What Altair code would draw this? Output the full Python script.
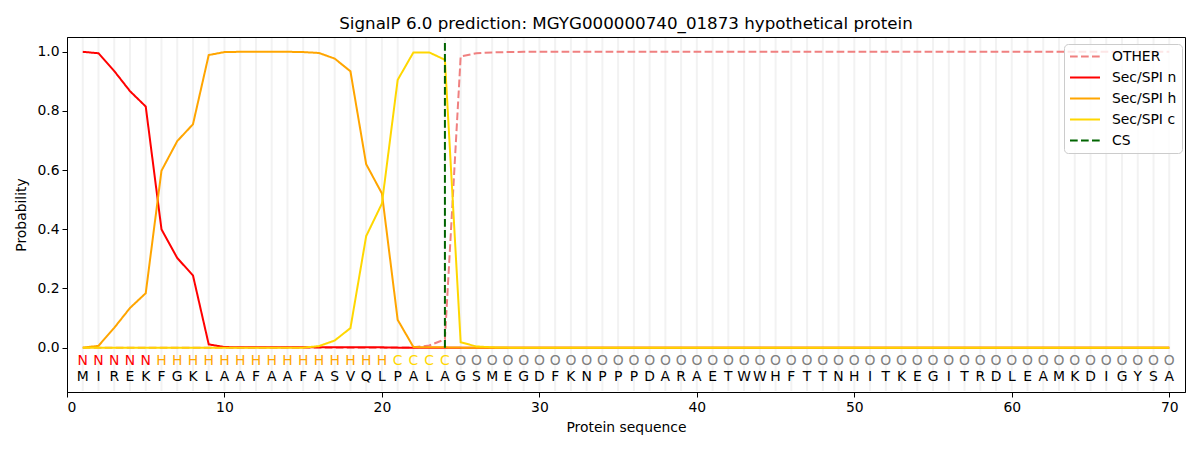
import altair as alt
import pandas as pd

positions = list(range(1, 71))
sequence = list("MIREKFGKLAAFAAFASVQLPALAGSMEGDFKNPPPDARAETWWHFTTNHITKEGITRDLEAMKDIGYSA")
region_labels = list("NNNNNHHHHHHHHHHHHHHHCCCCOOOOOOOOOOOOOOOOOOOOOOOOOOOOOOOOOOOOOOOOOOOOOO")

other = [0.000, 0.000, 0.000, 0.000, 0.000, 0.000, 0.000, 0.000, 0.000, 0.000,
         0.000, 0.000, 0.000, 0.000, 0.000, 0.000, 0.000, 0.000, 0.000, 0.000,
         0.000, 0.001, 0.007, 0.028, 0.984, 0.995, 0.998, 0.999, 1.000, 1.000,
         1.000, 1.000, 1.000, 1.000, 1.000, 1.000, 1.000, 1.000, 1.000, 1.000,
         1.000, 1.000, 1.000, 1.000, 1.000, 1.000, 1.000, 1.000, 1.000, 1.000,
         1.000, 1.000, 1.000, 1.000, 1.000, 1.000, 1.000, 1.000, 1.000, 1.000,
         1.000, 1.000, 1.000, 1.000, 1.000, 1.000, 1.000, 1.000, 1.000, 1.000]
sec_n = [1.000, 0.995, 0.935, 0.867, 0.815, 0.400, 0.303, 0.244, 0.011, 0.002,
         0.001, 0.001, 0.001, 0.001, 0.001, 0.001, 0.001, 0.001, 0.001, 0.001,
         0.000, 0.000, 0.000, 0.000, 0.000, 0.000, 0.000, 0.000, 0.000, 0.000,
         0.000, 0.000, 0.000, 0.000, 0.000, 0.000, 0.000, 0.000, 0.000, 0.000,
         0.000, 0.000, 0.000, 0.000, 0.000, 0.000, 0.000, 0.000, 0.000, 0.000,
         0.000, 0.000, 0.000, 0.000, 0.000, 0.000, 0.000, 0.000, 0.000, 0.000,
         0.000, 0.000, 0.000, 0.000, 0.000, 0.000, 0.000, 0.000, 0.000, 0.000]
sec_h = [0.000, 0.006, 0.067, 0.134, 0.184, 0.598, 0.698, 0.755, 0.989, 0.999,
         1.000, 1.000, 1.000, 1.000, 0.999, 0.996, 0.977, 0.934, 0.620, 0.521,
         0.094, 0.002, 0.001, 0.001, 0.000, 0.000, 0.000, 0.000, 0.000, 0.000,
         0.000, 0.000, 0.000, 0.000, 0.000, 0.000, 0.000, 0.000, 0.000, 0.000,
         0.000, 0.000, 0.000, 0.000, 0.000, 0.000, 0.000, 0.000, 0.000, 0.000,
         0.000, 0.000, 0.000, 0.000, 0.000, 0.000, 0.000, 0.000, 0.000, 0.000,
         0.000, 0.000, 0.000, 0.000, 0.000, 0.000, 0.000, 0.000, 0.000, 0.000]
sec_c = [0.000, 0.000, 0.000, 0.000, 0.000, 0.000, 0.000, 0.000, 0.000, 0.000,
         0.000, 0.000, 0.000, 0.000, 0.000, 0.005, 0.024, 0.066, 0.377, 0.487,
         0.905, 0.998, 0.998, 0.973, 0.018, 0.004, 0.001, 0.000, 0.000, 0.000,
         0.000, 0.000, 0.000, 0.000, 0.000, 0.000, 0.000, 0.000, 0.000, 0.000,
         0.000, 0.000, 0.000, 0.000, 0.000, 0.000, 0.000, 0.000, 0.000, 0.000,
         0.000, 0.000, 0.000, 0.000, 0.000, 0.000, 0.000, 0.000, 0.000, 0.000,
         0.000, 0.000, 0.000, 0.000, 0.000, 0.000, 0.000, 0.000, 0.000, 0.000]
cs_position = 24
cs_span = [0.0, 1.035]

series_names = ["OTHER", "Sec/SPI n", "Sec/SPI h", "Sec/SPI c", "CS"]
series_colors = ["#F08080", "#FF0000", "#FFA500", "#FFD700", "#006400"]
series_dashes = [[7.7, 3.3], [1, 0], [1, 0], [1, 0], [7.7, 3.3]]

label_names = ["N", "H", "C", "O"]
label_colors = ["#FF0000", "#FFA500", "#FFD700", "#808080"]

rows = []
for name, vals in zip(series_names[:4], [other, sec_n, sec_h, sec_c]):
    for p, v in zip(positions, vals):
        rows.append({"pos": p, "prob": v, "series": name})
for v in cs_span:
    rows.append({"pos": cs_position, "prob": v, "series": "CS"})
lines_df = pd.DataFrame(rows)

letters_df = pd.DataFrame({"pos": positions, "aa": sequence, "region": region_labels})
grid_df = pd.DataFrame({"pos": positions})

FONT = "DejaVu Sans"
W, H = 1118, 355
xscale = alt.Scale(domain=[0, 71], nice=False, zero=False)
yscale = alt.Scale(domain=[-0.15, 1.05], nice=False, zero=False)

grid = alt.Chart(grid_df).mark_rule(color="#f2f2f2", strokeWidth=2).encode(
    x=alt.X("pos:Q", scale=xscale),
    y=alt.value(1),
    y2=alt.value(H - 1),
)

legend = alt.Legend(
    title=None, orient="none", legendX=997, legendY=7,
    symbolType="stroke", symbolSize=900, symbolStrokeWidth=2,
    labelFont=FONT, labelFontSize=13.9, labelColor="black",
    fillColor="rgba(255,255,255,0.8)", strokeColor="#cccccc", cornerRadius=4,
    padding=5, rowPadding=6, labelOffset=11, clipHeight=15,
)

lines = alt.Chart(lines_df).mark_line(strokeWidth=2).encode(
    x=alt.X("pos:Q", scale=xscale,
            axis=alt.Axis(values=[0, 10, 20, 30, 40, 50, 60, 70], title="Protein sequence",
                          grid=False, format="d")),
    y=alt.Y("prob:Q", scale=yscale,
            axis=alt.Axis(values=[0.0, 0.2, 0.4, 0.6, 0.8, 1.0], title="Probability",
                          grid=False, format=".1f")),
    color=alt.Color("series:N", scale=alt.Scale(domain=series_names, range=series_colors),
                    sort=series_names, legend=legend),
    strokeDash=alt.StrokeDash("series:N", scale=alt.Scale(domain=series_names, range=series_dashes),
                              sort=series_names, legend=legend),
    order=alt.Order("pos:Q"),
)

region_text = alt.Chart(letters_df).mark_text(font=FONT, fontSize=13.9, baseline="middle").encode(
    x=alt.X("pos:Q", scale=xscale),
    y=alt.datum(-0.045),
    text="region:N",
    fill=alt.Fill("region:N", scale=alt.Scale(domain=label_names, range=label_colors), legend=None),
)

aa_text = alt.Chart(letters_df).mark_text(font=FONT, fontSize=13.9, baseline="middle", color="black").encode(
    x=alt.X("pos:Q", scale=xscale),
    y=alt.datum(-0.098),
    text="aa:N",
)

chart = alt.layer(grid, lines, region_text, aa_text).properties(
    width=W, height=H,
    title=alt.TitleParams("SignalP 6.0 prediction: MGYG000000740_01873 hypothetical protein",
                          font=FONT, fontSize=16.7, fontWeight="normal", color="black",
                          anchor="middle", offset=4),
    padding={"left": 59, "top": 29, "right": 7, "bottom": 50},
    autosize=alt.AutoSizeParams(type="none"),
).configure_view(
    stroke="black", strokeWidth=1
).configure_axis(
    domainColor="black", tickColor="black", labelColor="black", titleColor="black",
    labelFont=FONT, titleFont=FONT, labelFontSize=13.9, titleFontSize=13.9,
    titleFontWeight="normal", tickSize=5, labelPadding=3
).configure_axisX(titlePadding=7).configure_axisY(titlePadding=8)

chart.save("out.html", embed_options={"renderer": "svg", "actions": False})
